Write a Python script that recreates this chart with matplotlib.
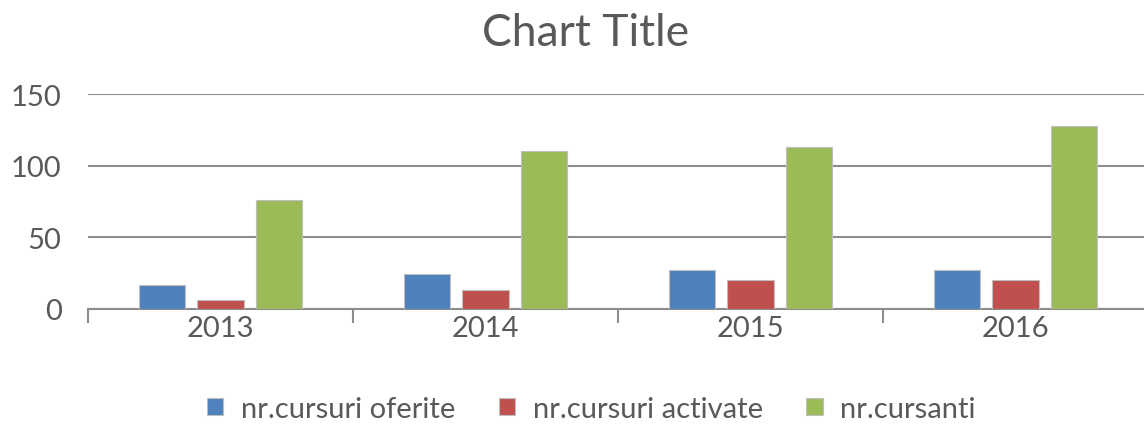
import matplotlib
matplotlib.use("Agg")
import matplotlib.pyplot as plt
import numpy as np

years = ["2013", "2014", "2015", "2016"]
series_names = ["nr.cursuri oferite", "nr.cursuri activate", "nr.cursanti"]
oferite = [17, 24.5, 27, 27]
activate = [6, 13, 20, 20]
cursanti = [76, 110, 113, 128]
colors = ["#4F81BD", "#C0504D", "#9BBB59"]

plt.rcParams['font.family'] = ['Lato', 'DejaVu Sans']
txt = "#595959"

fig = plt.figure(figsize=(11.44, 4.27), dpi=100)
ax = fig.add_axes([88/1144, 1-310/427, (1148-88)/1144, (310-95)/427])

x = np.arange(len(years))
w = 0.174
step = 0.222
for i, (vals, name, c) in enumerate(zip([oferite, activate, cursanti], series_names, colors)):
    ax.bar(x + (i-1)*step, vals, w, color=c, edgecolor="#BFBFBF", linewidth=0.8, label=name, zorder=3)

ax.set_xlim(-0.5, 3.5)
ax.set_ylim(0, 150)
ax.set_yticks([0, 50, 100, 150])
ax.yaxis.grid(True, color="#8C8C8C", linewidth=1.5, zorder=0)
ax.set_axisbelow(True)
for s in ["top", "right", "left"]:
    ax.spines[s].set_visible(False)
ax.spines["bottom"].set_color("#8C8C8C")
ax.spines["bottom"].set_linewidth(1.5)
ax.tick_params(axis="y", length=0, labelsize=21, labelcolor=txt, pad=19)
ax.set_xticks(x)
ax.set_xticklabels(years)
ax.tick_params(axis="x", length=0, labelsize=21, labelcolor=txt, pad=4)
ax.set_xticks(np.arange(-0.5, 4.0, 1.0), minor=True)
ax.tick_params(axis="x", which="minor", length=10, color="#8C8C8C", width=1.5, direction="out")

fig.text(0.512, 1-33/427, "Chart Title", ha="center", va="center", fontsize=32, color=txt)

handles, labels = ax.get_legend_handles_labels()
leg = fig.legend(handles, labels, loc="center", bbox_to_anchor=(0.517, 1-410/427), ncol=3,
                 frameon=False, fontsize=21, labelcolor=txt, handlelength=0.55, handleheight=0.55,
                 handletextpad=0.6, columnspacing=1.5)

fig.savefig("out.png", dpi=100)
